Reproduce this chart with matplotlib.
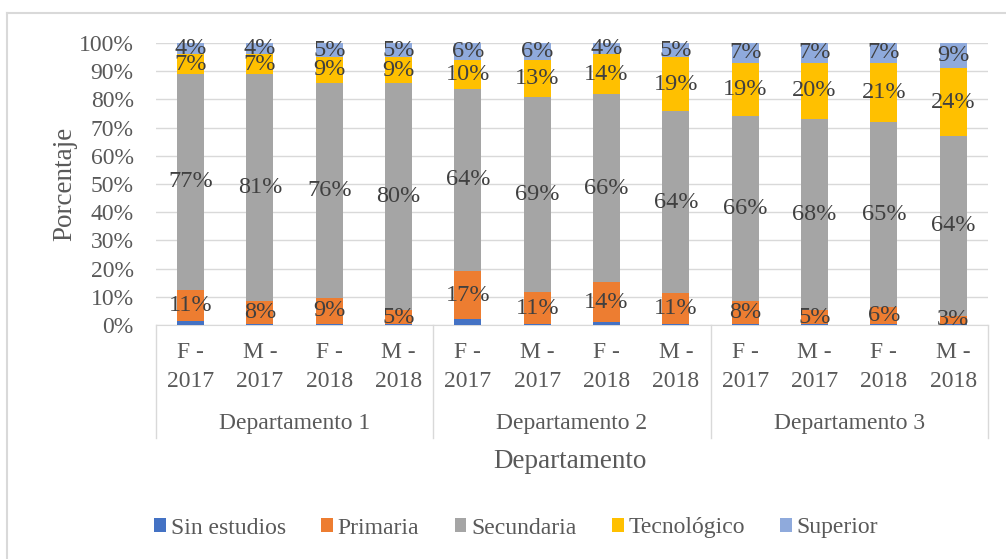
import matplotlib.pyplot as plt
from matplotlib.lines import Line2D
from matplotlib.transforms import blended_transform_factory

plt.rcParams['font.family'] = ['Liberation Serif', 'DejaVu Serif']

# data (percentages per bar)
categories = ['F -\n2017', 'M -\n2017', 'F -\n2018', 'M -\n2018'] * 3
groups = ['Departamento 1', 'Departamento 2', 'Departamento 3']
series = ['Sin estudios', 'Primaria', 'Secundaria', 'Tecnológico', 'Superior']
colors = ['#4472c4', '#ed7d31', '#a5a5a5', '#ffc000', '#8faadc']

sin_estudios = [1.5, 0.5, 0.5, 0.3, 2.0, 0.5, 1.0, 0.3, 0.5, 0.3, 0.5, 0.3]
primaria = [11, 8, 9, 5, 17, 11, 14, 11, 8, 5, 6, 3]
secundaria = [77, 81, 76, 80, 64, 69, 66, 64, 66, 68, 65, 64]
tecnologico = [7, 7, 9, 9, 10, 13, 14, 19, 19, 20, 21, 24]
superior = [4, 4, 5, 5, 6, 6, 4, 5, 7, 7, 7, 9]

values = [sin_estudios, primaria, secundaria, tecnologico, superior]
show_label = [False, True, True, True, True]

text_color = '#595959'
fig = plt.figure(figsize=(10.06, 5.59), dpi=100)
ax = fig.add_axes([0.155, 0.4186, 0.827, 0.5044])

n = len(categories)
x = list(range(n))
totals = [sum(v[i] for v in values) for i in range(n)]
bottoms = [0.0] * n
for vals, name, col, lab in zip(values, series, colors, show_label):
    heights = [vals[i] / totals[i] * 100 for i in range(n)]
    ax.bar(x, heights, bottom=bottoms, width=0.39, color=col, label=name, zorder=3)
    if lab:
        for i in range(n):
            ax.text(x[i], bottoms[i] + heights[i] / 2, f'{round(vals[i])}%',
                    ha='center', va='center', fontsize=17.5, color='#404040', zorder=4)
    bottoms = [bottoms[i] + heights[i] for i in range(n)]

ax.set_xlim(-0.5, n - 0.5)
ax.set_ylim(0, 100)
ax.set_yticks(range(0, 101, 10))
ax.set_yticklabels([f'{t}%' for t in range(0, 101, 10)], fontsize=17, color=text_color)
ax.yaxis.grid(True, color='#d9d9d9', linewidth=1, zorder=0)
ax.tick_params(axis='y', length=0, pad=16)
ax.set_xticks(x)
ax.set_xticklabels(categories, fontsize=17, color=text_color, linespacing=1.55)
ax.tick_params(axis='x', length=0, pad=12)
for s in ['top', 'right', 'left']:
    ax.spines[s].set_visible(False)
ax.spines['bottom'].set_color('#d9d9d9')

# group separators and labels
tr = blended_transform_factory(ax.transData, ax.transAxes)
for b in [-0.5, 3.5, 7.5, 11.5]:
    ax.plot([b, b], [0, -0.40], transform=tr, color='#d9d9d9', lw=1, clip_on=False)
for k, g in enumerate(groups):
    ax.text(4 * k + 1.5, -0.35, g, transform=tr, ha='center', va='center',
            fontsize=17, color=text_color)

ax.set_ylabel('Porcentaje', fontsize=19.5, color=text_color, labelpad=1)
fig.text(0.567, 1 - 462 / 559, 'Departamento', ha='center', va='center',
         fontsize=19.5, color=text_color)

fig.legend(loc='center', bbox_to_anchor=(0.513, 1 - 528 / 559), ncol=5, frameon=False,
           fontsize=17, handlelength=0.5, handleheight=0.5, handletextpad=0.2,
           columnspacing=1.5, labelcolor=text_color)

# outer chart frame (only left and top edges are inside the picture)
fig.add_artist(Line2D([7 / 1006, 7 / 1006], [0, 1 - 13 / 559], transform=fig.transFigure,
                      color='#d9d9d9', lw=1.5))
fig.add_artist(Line2D([7 / 1006, 1], [1 - 13 / 559, 1 - 13 / 559], transform=fig.transFigure,
                      color='#d9d9d9', lw=1.5))

fig.savefig('out.png', dpi=100)
